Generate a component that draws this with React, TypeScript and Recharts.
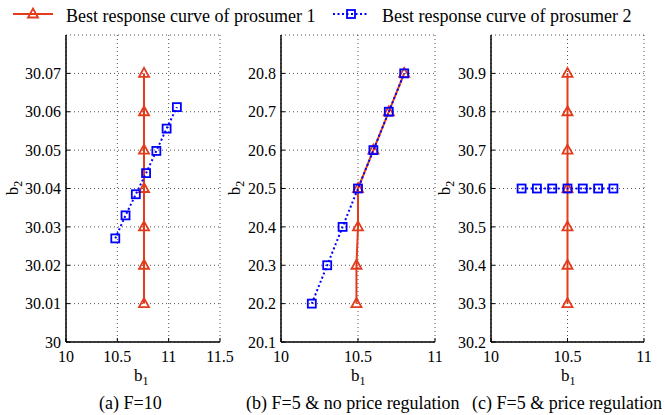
import { ScatterChart, Scatter, XAxis, YAxis, CartesianGrid } from "recharts";

const seriesNames = ["Best response curve of prosumer 1", "Best response curve of prosumer 2"];
const captions = ["(a) F=10", "(b) F=5 & no price regulation", "(c) F=5 & price regulation"];

// (a) F=10
const aP1B1 = [10.76, 10.76, 10.76, 10.76, 10.76, 10.76, 10.76];
const aP1B2 = [30.01, 30.02, 30.03, 30.04, 30.05, 30.06, 30.07];
const aP2B1 = [10.48, 10.58, 10.68, 10.78, 10.88, 10.98, 11.08];
const aP2B2 = [30.027, 30.033, 30.0385, 30.044, 30.0498, 30.0556, 30.0612];
const aXTicks = [10, 10.5, 11, 11.5];
const aYTicks = [30, 30.01, 30.02, 30.03, 30.04, 30.05, 30.06, 30.07];

// (b) F=5 & no price regulation
const bP1B1 = [10.49, 10.49, 10.5, 10.5, 10.6, 10.7, 10.8];
const bP1B2 = [20.2, 20.3, 20.4, 20.5, 20.6, 20.7, 20.8];
const bP2B1 = [10.2, 10.3, 10.4, 10.5, 10.6, 10.7, 10.8];
const bP2B2 = [20.2, 20.3, 20.4, 20.5, 20.6, 20.7, 20.8];
const bXTicks = [10, 10.5, 11];
const bYTicks = [20.1, 20.2, 20.3, 20.4, 20.5, 20.6, 20.7, 20.8];

// (c) F=5 & price regulation
const cP1B1 = [10.5, 10.5, 10.5, 10.5, 10.5, 10.5, 10.5];
const cP1B2 = [30.3, 30.4, 30.5, 30.6, 30.7, 30.8, 30.9];
const cP2B1 = [10.2, 10.3, 10.4, 10.5, 10.6, 10.7, 10.8];
const cP2B2 = [30.6, 30.6, 30.6, 30.6, 30.6, 30.6, 30.6];
const cXTicks = [10, 10.5, 11];
const cYTicks = [30.2, 30.3, 30.4, 30.5, 30.6, 30.7, 30.8, 30.9];

const RED = "#E23C1C";
const BLUE = "#0000FF";
const FONT = "'Liberation Serif', 'DejaVu Serif', serif";

const zip = (xs: number[], ys: number[]) => xs.map((x, i) => ({ x, y: ys[i] }));

function Triangle({ cx, cy }: { cx: number; cy: number }) {
  return (
    <path
      d={`M${cx},${cy - 5.5}L${cx + 5},${cy + 3.5}L${cx - 5},${cy + 3.5}Z`}
      fill="none"
      stroke={RED}
      strokeWidth={1.8}
    />
  );
}

function Square({ cx, cy }: { cx: number; cy: number }) {
  return (
    <rect x={cx - 4} y={cy - 4} width={8} height={8} fill="none" stroke={BLUE} strokeWidth={1.8} />
  );
}

const tickStyle = { fontFamily: FONT, fontSize: 16, fill: "#000" };
const axisLine = { stroke: "#000", strokeWidth: 1.5 };
const tickLine = { stroke: "#000", strokeWidth: 1 };

function Panel(props: any) {
  const { left, width, yAxisWidth, marginRight, xDomain, xTicks, yDomain, yTicks, p1, p2 } = props;
  return (
    <div style={{ position: "absolute", left, top: 0 }}>
      <ScatterChart
        width={width}
        height={415}
        margin={{ top: 35, right: marginRight, bottom: 0, left: 0 }}
        style={{ overflow: "visible" }}
      >
        <CartesianGrid stroke="#555" strokeDasharray="1 3" />
        <XAxis
          type="number"
          dataKey="x"
          domain={xDomain}
          ticks={xTicks}
          interval={0}
          height={73}
          tickSize={-4}
          tickMargin={13}
          axisLine={axisLine}
          tickLine={tickLine}
          tick={tickStyle}
        />
        <XAxis
          xAxisId="top"
          orientation="top"
          type="number"
          domain={xDomain}
          ticks={xTicks}
          interval={0}
          height={0}
          tick={false}
          tickSize={-4}
          axisLine={axisLine}
          tickLine={tickLine}
        />
        <YAxis
          type="number"
          dataKey="y"
          domain={yDomain}
          ticks={yTicks}
          interval={0}
          width={yAxisWidth}
          tickSize={-4}
          tickMargin={9}
          axisLine={axisLine}
          tickLine={tickLine}
          tick={tickStyle}
        />
        <YAxis
          yAxisId="right"
          orientation="right"
          type="number"
          domain={yDomain}
          ticks={yTicks}
          interval={0}
          width={0}
          tick={false}
          tickSize={-4}
          axisLine={axisLine}
          tickLine={tickLine}
        />
        <Scatter
          data={p1}
          isAnimationActive={false}
          line={{ stroke: RED, strokeWidth: 2 }}
          shape={(s: any) => <Triangle cx={s.cx} cy={s.cy} />}
        />
        <Scatter
          data={p2}
          isAnimationActive={false}
          line={{ stroke: BLUE, strokeWidth: 2, strokeDasharray: "2 2.5" }}
          shape={(s: any) => <Square cx={s.cx} cy={s.cy} />}
        />
      </ScatterChart>
    </div>
  );
}

function B1({ left }: { left: number }) {
  return (
    <div style={{ position: "absolute", left, top: 366, fontSize: 17, lineHeight: "20px", whiteSpace: "nowrap" }}>
      b<span style={{ fontSize: 12, position: "relative", top: 4 }}>1</span>
    </div>
  );
}

function B2({ cx }: { cx: number }) {
  return (
    <div
      style={{
        position: "absolute",
        left: cx,
        top: 188,
        fontSize: 17,
        lineHeight: "20px",
        whiteSpace: "nowrap",
        transform: "translate(-50%, -50%) rotate(-90deg)",
      }}
    >
      b<span style={{ fontSize: 12, position: "relative", top: 4 }}>2</span>
    </div>
  );
}

export default function App() {
  return (
    <div
      style={{
        position: "absolute",
        left: 0,
        top: 0,
        width: 665,
        height: 415,
        background: "#fff",
        fontFamily: FONT,
        color: "#000",
        overflow: "hidden",
      }}
    >
      {/* legend */}
      <svg style={{ position: "absolute", left: 10, top: 4 }} width={50} height={20}>
        <line x1={3} y1={10} x2={43} y2={10} stroke={RED} strokeWidth={2} />
        <Triangle cx={23} cy={10} />
      </svg>
      <div style={{ position: "absolute", left: 66, top: 6, fontSize: 18, lineHeight: "20px", whiteSpace: "nowrap" }}>
        {seriesNames[0]}
      </div>
      <svg style={{ position: "absolute", left: 330, top: 4 }} width={42} height={20}>
        <line x1={3} y1={10} x2={38} y2={10} stroke={BLUE} strokeWidth={2} strokeDasharray="2 2.5" />
        <Square cx={21} cy={10} />
      </svg>
      <div style={{ position: "absolute", left: 382, top: 6, fontSize: 18, lineHeight: "20px", whiteSpace: "nowrap" }}>
        {seriesNames[1]}
      </div>

      <Panel
        left={0}
        width={240}
        yAxisWidth={66}
        marginRight={20}
        xDomain={[10, 11.5]}
        xTicks={aXTicks}
        yDomain={[30, 30.08]}
        yTicks={aYTicks}
        p1={zip(aP1B1, aP1B2)}
        p2={zip(aP2B1, aP2B2)}
      />
      <Panel
        left={232}
        width={220}
        yAxisWidth={49}
        marginRight={17}
        xDomain={[10, 11]}
        xTicks={bXTicks}
        yDomain={[20.1, 20.9]}
        yTicks={bYTicks}
        p1={zip(bP1B1, bP1B2)}
        p2={zip(bP2B1, bP2B2)}
      />
      <Panel
        left={443}
        width={222}
        yAxisWidth={48}
        marginRight={21}
        xDomain={[10, 11]}
        xTicks={cXTicks}
        yDomain={[30.2, 31]}
        yTicks={cYTicks}
        p1={zip(cP1B1, cP1B2)}
        p2={zip(cP2B1, cP2B2)}
      />

      <B2 cx={12.5} />
      <B2 cx={235} />
      <B2 cx={445} />
      <B1 left={134} />
      <B1 left={351} />
      <B1 left={561} />

      <div style={{ position: "absolute", left: 99, top: 393, fontSize: 18, lineHeight: "20px", whiteSpace: "nowrap" }}>
        {captions[0]}
      </div>
      <div style={{ position: "absolute", left: 246, top: 393, fontSize: 18, lineHeight: "20px", whiteSpace: "nowrap" }}>
        {captions[1]}
      </div>
      <div style={{ position: "absolute", left: 472, top: 393, fontSize: 18, lineHeight: "20px", whiteSpace: "nowrap" }}>
        {captions[2]}
      </div>
    </div>
  );
}
